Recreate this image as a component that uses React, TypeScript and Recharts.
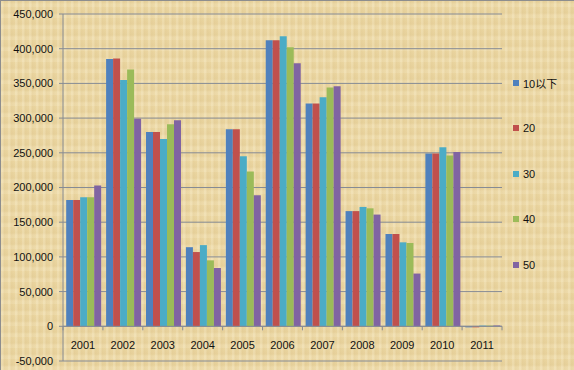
import React from "react";
import {
  BarChart,
  Bar,
  XAxis,
  YAxis,
  CartesianGrid,
  Legend,
  ReferenceLine,
} from "recharts";

const years = ["2001", "2002", "2003", "2004", "2005", "2006", "2007", "2008", "2009", "2010", "2011"];

const s10 = [182000, 385000, 280000, 114000, 284000, 412000, 321000, 166000, 133000, 249000, -1500];
const s20 = [182000, 386000, 280000, 107000, 284000, 412000, 321000, 166000, 133000, 249000, -1500];
const s30 = [186000, 355000, 270000, 117000, 245000, 418000, 330000, 172000, 121000, 258000, 1000];
const s40 = [186000, 370000, 291000, 95000, 223000, 402000, 344000, 170000, 120000, 246000, 1000];
const s50 = [203000, 299000, 297000, 84000, 189000, 379000, 346000, 161000, 76000, 251000, 1200];

const seriesNames = ["10以下", "20", "30", "40", "50"];
const seriesColors = ["#4F81BD", "#C0504D", "#4BACC6", "#9BBB59", "#8064A2"];
const yTicks = [-50000, 0, 50000, 100000, 150000, 200000, 250000, 300000, 350000, 400000, 450000];

const data = years.map((year, i) => ({
  year,
  s10: s10[i],
  s20: s20[i],
  s30: s30[i],
  s40: s40[i],
  s50: s50[i],
}));
const keys = ["s10", "s20", "s30", "s40", "s50"];

const FONT = "'Liberation Sans', 'Noto Sans CJK SC', sans-serif";
const GRID = "#868B94";

// zero axis line with small tick marks between the categories
function ZeroAxis(props: any) {
  const { x1, x2, y1 } = props;
  const n = years.length;
  const step = (x2 - x1) / n;
  const marks = [];
  for (let i = 0; i <= n; i++) {
    const x = x1 + step * i;
    marks.push(<line key={i} x1={x} x2={x} y1={y1} y2={y1 + 4} stroke={GRID} strokeWidth={1} />);
  }
  return (
    <g>
      <line x1={x1} x2={x2} y1={y1} y2={y1} stroke={GRID} strokeWidth={1} />
      {marks}
    </g>
  );
}

function YearTick(props: any) {
  const { x, y, payload } = props;
  return (
    <text x={x} y={y - 12} textAnchor="middle" fontSize={11} fill="#111" fontFamily={FONT}>
      {payload.value}
    </text>
  );
}

function LegendBox() {
  return (
    <div style={{ fontFamily: FONT, fontSize: 11, color: "#111" }}>
      {seriesNames.map((name, i) => (
        <div key={name} style={{ display: "flex", alignItems: "center", height: 45.5 }}>
          <span style={{ width: 6, height: 6, background: seriesColors[i], marginRight: 4, display: "inline-block" }} />
          <span>{name}</span>
        </div>
      ))}
    </div>
  );
}

export default function App() {
  return (
    <div
      style={{
        position: "absolute",
        left: 0,
        top: 0,
        width: 574,
        height: 370,
        boxSizing: "border-box",
        borderTop: "1px solid #8E8E8E",
        borderLeft: "1px solid #8E8E8E",
        backgroundColor: "#EBD6A1",
        backgroundImage:
          "repeating-linear-gradient(90deg, rgba(255,250,230,0.18) 0px, rgba(255,250,230,0.18) 2px, rgba(200,170,110,0.10) 3px, rgba(255,255,255,0) 7px), repeating-linear-gradient(0deg, rgba(255,248,225,0.15) 0px, rgba(255,248,225,0.15) 3px, rgba(190,160,100,0.08) 5px, rgba(255,255,255,0) 11px)",
      }}
    >
      <BarChart
        width={574}
        height={370}
        data={data}
        margin={{ top: 14, right: 12, bottom: -11, left: 1 }}
        barCategoryGap="8%"
        barGap={0}
        style={{ position: "absolute", left: -1, top: -1 }}
      >
        <CartesianGrid vertical={false} stroke={GRID} strokeWidth={1} />
        <XAxis
          dataKey="year"
          height={20}
          axisLine={false}
          tickLine={false}
          tickSize={0}
          tickMargin={0}
          tick={<YearTick />}
          interval={0}
        />
        <YAxis
          width={62}
          domain={[-50000, 450000]}
          ticks={yTicks}
          interval={0}
          stroke={GRID}
          tickSize={4}
          tickMargin={6}
          tickFormatter={(v: number) => v.toLocaleString("en-US")}
          tick={{ fontSize: 11, fill: "#111", fontFamily: FONT }}
        />
        <ReferenceLine y={0} shape={<ZeroAxis />} />
        <Legend
          layout="vertical"
          align="right"
          verticalAlign="top"
          content={<LegendBox />}
          wrapperStyle={{ width: 60, left: 513, top: 60 }}
        />
        {keys.map((k, i) => (
          <Bar key={k} dataKey={k} name={seriesNames[i]} fill={seriesColors[i]} isAnimationActive={false} />
        ))}
      </BarChart>
    </div>
  );
}
